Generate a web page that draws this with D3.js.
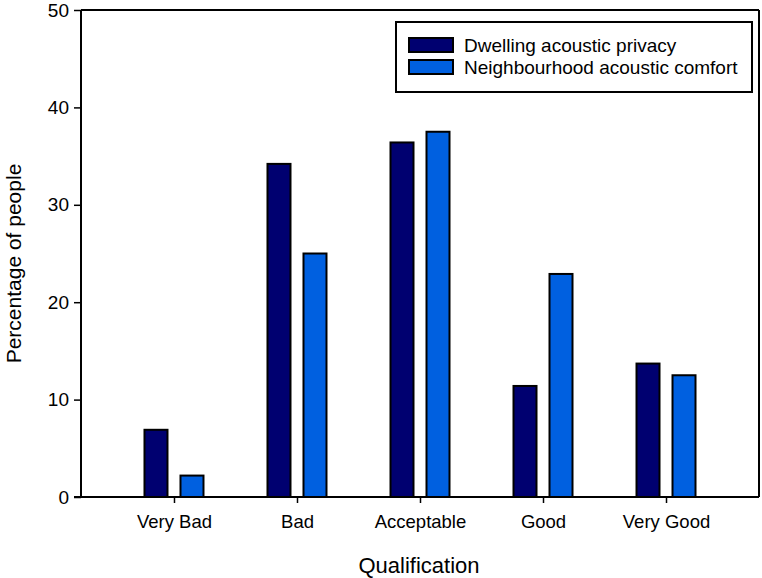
<!DOCTYPE html>
<html>
<head>
<meta charset="utf-8">
<script src="https://cdn.jsdelivr.net/npm/d3@7"></script>
<style>
  html, body { margin: 0; padding: 0; background: #fff; }
  svg { display: block; }
  text { font-family: "Liberation Sans", Arial, sans-serif; fill: #000; }
</style>
</head>
<body>
<svg id="chart" width="762" height="578"></svg>
<script>
const categories = ["Very Bad", "Bad", "Acceptable", "Good", "Very Good"];
const seriesNames = ["Dwelling acoustic privacy", "Neighbourhood acoustic comfort"];
const dwelling = [6.9, 34.2, 36.4, 11.4, 13.7];
const neighbourhood = [2.2, 25.0, 37.5, 22.9, 12.5];
const yTicks = [0, 10, 20, 30, 40, 50];
const colors = ["#000070", "#0060e0"];

(function () {
const svg = d3.select("#chart");
const mLeft = 81, mRight = 759, mTop = 10, mBottom = 497;

const x = d3.scalePoint().domain(categories).range([mLeft, mRight]).padding(0.756);
const y = d3.scaleLinear().domain([0, 50]).range([mBottom, mTop]);

const series = [dwelling, neighbourhood];
const offsets = [-18, 18];
const barW = 23;

// bars
series.forEach((vals, si) => {
  svg.append("g").selectAll("rect")
    .data(vals)
    .join("rect")
    .attr("x", (d, i) => x(categories[i]) + offsets[si] - barW / 2)
    .attr("y", d => y(d))
    .attr("width", barW)
    .attr("height", d => y(0) - y(d))
    .attr("fill", colors[si])
    .attr("stroke", "#000")
    .attr("stroke-width", 2);
});

// frame top & right
svg.append("line").attr("x1", mLeft).attr("x2", mRight).attr("y1", mTop).attr("y2", mTop)
  .attr("stroke", "#000").attr("stroke-width", 2);
svg.append("line").attr("x1", mRight).attr("x2", mRight).attr("y1", mTop).attr("y2", mBottom)
  .attr("stroke", "#000").attr("stroke-width", 2);

// y axis
const yAxis = d3.axisLeft(y).tickValues(yTicks).tickSize(7).tickPadding(5).tickFormat(d3.format("d"));
const gy = svg.append("g").attr("transform", `translate(${mLeft},0)`).call(yAxis);
gy.select(".domain").attr("stroke-width", 2).attr("d", `M0,${mTop}V${mBottom}`);
gy.selectAll(".tick line").attr("stroke-width", 1.5);
gy.selectAll(".tick text").style("font-size", "19px").attr("font-family", "Liberation Sans, Arial, sans-serif");

// x axis
const xAxis = d3.axisBottom(x).tickSize(6).tickPadding(12);
const gx = svg.append("g").attr("transform", `translate(0,${mBottom})`).call(xAxis);
gx.select(".domain").attr("stroke-width", 2).attr("d", `M${mLeft - 7},0H${mRight}`);
gx.selectAll(".tick line").attr("stroke-width", 1.5);
gx.selectAll(".tick text").style("font-size", "18.5px").attr("font-family", "Liberation Sans, Arial, sans-serif");

// axis titles
svg.append("text")
  .attr("x", (mLeft + mRight) / 2 - 1).attr("y", 573)
  .attr("text-anchor", "middle").style("font-size", "22px")
  .text("Qualification");
svg.append("text")
  .attr("transform", `translate(21,${(mTop + mBottom) / 2 + 10}) rotate(-90)`)
  .attr("text-anchor", "middle").style("font-size", "21px")
  .text("Percentage of people");

// legend
const lg = svg.append("g");
lg.append("rect").attr("x", 396).attr("y", 22).attr("width", 356).attr("height", 70)
  .attr("fill", "#fff").attr("stroke", "#000").attr("stroke-width", 2);
seriesNames.forEach((name, i) => {
  const yy = 38 + i * 22;
  lg.append("rect").attr("x", 409).attr("y", yy).attr("width", 44).attr("height", 14)
    .attr("fill", colors[i]).attr("stroke", "#000").attr("stroke-width", 2);
  lg.append("text").attr("x", 464).attr("y", yy + 14).style("font-size", "19px").text(name);
});
})();
</script>
</body>
</html>
